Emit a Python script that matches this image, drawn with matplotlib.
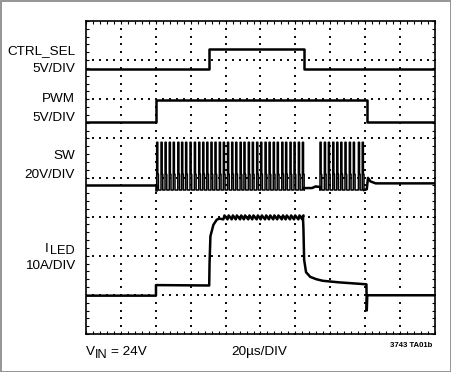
import matplotlib
matplotlib.use("Agg")
import matplotlib.pyplot as plt
from matplotlib.patches import Rectangle

plt.rcParams['font.family'] = ['Liberation Sans', 'DejaVu Sans']

W, H = 452, 372

# time axis in microseconds (20us/DIV, 10 divisions), vertical axis in divisions (8)
ctrl_t = [0, 70.5, 70.5, 124.8, 124.8, 200]
ctrl_v = [6.78, 6.78, 7.28, 7.28, 6.78, 6.78]

pwm_t = [0, 40.1, 40.1, 160.9, 160.9, 200]
pwm_v = [5.42, 5.42, 5.97, 5.97, 5.42, 5.42]

# switch node: pulse start times
sw_pulses = [40.5, 43.0, 45.3, 47.7, 50.0, 52.6, 54.8, 57.1, 59.6, 62.1, 64.6, 66.9,
             69.2, 71.6, 73.9, 76.4, 78.7, 81.1, 83.5, 85.8, 88.3, 90.5, 93.0, 95.3,
             97.8, 100.1, 102.6, 104.9, 107.3, 109.6, 112.2, 114.4, 116.9, 119.2,
             121.7, 124.0,
             134.1, 136.6, 138.9, 141.4, 143.7, 146.0, 148.4, 150.9, 153.2, 156.1, 158.3]
sw_on = 0.65
sw_high = 4.90
sw_low = 3.68
sw_mid = 4.08
sw_pre_t = [0, 40.3]
sw_pre_v = [3.81, 3.81]
sw_gap_t = [125.0, 129.5, 131.5, 134.1]
sw_gap_v = [3.73, 3.73, 3.77, 3.76]
sw_post_t = [159.2, 160.9, 161.6, 163.0, 166.0, 200]
sw_post_v = [3.68, 3.70, 3.99, 3.90, 3.85, 3.85]

iled_rise_t = [0, 40.1, 40.1, 70.6, 70.8, 71.3, 73.0, 74.9, 76.4]
iled_rise_v = [0.98, 0.98, 1.25, 1.24, 1.8, 2.5, 2.79, 2.92, 2.95]
iled_top = 2.98
iled_ripple = 0.05
iled_fall_t = [124.3, 124.6, 125.0, 126.1, 128.5, 132.0, 135.7, 145.0, 160.7, 160.9, 161.2, 200]
iled_fall_v = [3.02, 2.7, 1.9, 1.58, 1.46, 1.40, 1.36, 1.32, 1.27, 0.60, 0.99, 0.99]

fig = plt.figure(figsize=(W / 100, H / 100), dpi=100)
ax = fig.add_axes([86 / W, 1 - 334 / H, 349 / W, 313 / H])
ax.set_xlim(0, 200)
ax.set_ylim(0, 8)

# graticule dots
dot_x, dot_y = [], []
for gx in range(20, 200, 20):
    for k in range(41):
        dot_x.append(gx)
        dot_y.append(k * 0.2)
for gy in range(1, 8):
    for k in range(51):
        dot_x.append(k * 4)
        dot_y.append(gy)
ax.scatter(dot_x, dot_y, s=1.3, marker='s', color='#111111', linewidths=0, zorder=1)

ax.set_xticks(range(0, 201, 20))
ax.set_xticks(range(0, 201, 4), minor=True)
ax.set_yticks(range(0, 9))
ax.set_yticks([k * 0.2 for k in range(41)], minor=True)
ax.tick_params(which='both', direction='in', length=2.3, width=0.8,
               top=True, right=True, labelbottom=False, labelleft=False)
for s in ax.spines.values():
    s.set_linewidth(1.2)

lw = 1.8
ax.plot(ctrl_t, ctrl_v, color='black', lw=lw, zorder=3)
ax.plot(pwm_t, pwm_v, color='black', lw=lw, zorder=3)

# SW trace
sx = [40.3]
sy = [sw_low]
for i, t in enumerate(sw_pulses):
    sx += [t, t, t + sw_on, t + sw_on, t + sw_on + 0.35, t + sw_on + 0.35]
    sy += [sw_low, sw_high, sw_high, sw_mid, sw_mid, sw_low]
    if t == 124.0:
        sx += sw_gap_t
        sy += sw_gap_v
sx += sw_post_t[:2]
sy += sw_post_v[:2]
ax.plot(sx, sy, color='black', lw=1.1, zorder=3)
ax.plot(sw_pre_t + [40.3], sw_pre_v + [sw_low], color='black', lw=lw, zorder=3)
ax.plot(sw_gap_t, sw_gap_v, color='black', lw=lw, zorder=3)
ax.plot(sw_post_t, sw_post_v, color='black', lw=lw, zorder=3)

# ILED trace
ix = list(iled_rise_t)
iy = list(iled_rise_v)
for t in sw_pulses:
    if 76.4 < t < 124.3:
        ix += [t, t + sw_on]
        iy += [iled_top - iled_ripple, iled_top + iled_ripple]
ix += iled_fall_t
iy += iled_fall_v
ax.plot(ix, iy, color='black', lw=lw, zorder=3)


def fx(px):
    return px / W


def fy(py):
    return 1 - py / H


fs = 9.7
fs_sub = 9.2
fig.text(fx(75), fy(51.3), 'CTRL_SEL', ha='right', va='center', fontsize=fs)
fig.text(fx(75), fy(69), '5V/DIV', ha='right', va='center', fontsize=fs)
fig.text(fx(75), fy(98.7), 'PWM', ha='right', va='center', fontsize=fs)
fig.text(fx(75), fy(117.7), '5V/DIV', ha='right', va='center', fontsize=fs)
fig.text(fx(75), fy(156), 'SW', ha='right', va='center', fontsize=fs)
fig.text(fx(75), fy(175), '20V/DIV', ha='right', va='center', fontsize=fs)
fig.text(fx(75), fy(251), 'LED', ha='right', va='center', fontsize=fs_sub)
fig.text(fx(49), fy(248.5), 'I', ha='right', va='center', fontsize=fs)
fig.text(fx(75), fy(266), '10A/DIV', ha='right', va='center', fontsize=fs)

fig.text(fx(86), fy(352), 'V', ha='left', va='center', fontsize=fs)
fig.text(fx(95), fy(355), 'IN', ha='left', va='center', fontsize=fs_sub)
fig.text(fx(147), fy(352), '= 24V', ha='right', va='center', fontsize=fs)
fig.text(fx(231), fy(352), '20µs/DIV', ha='left', va='center', fontsize=fs)
fig.text(fx(432), fy(345.5), '3743 TA01b', ha='right', va='center', fontsize=5.6, weight='bold')

fig.patches.append(Rectangle((0.5 / W, 0.5 / H), 1 - 1.5 / W, 1 - 1.5 / H, transform=fig.transFigure,
                             fill=False, edgecolor='#8c8c8c', lw=1.3))

fig.savefig('out.png', dpi=100)
